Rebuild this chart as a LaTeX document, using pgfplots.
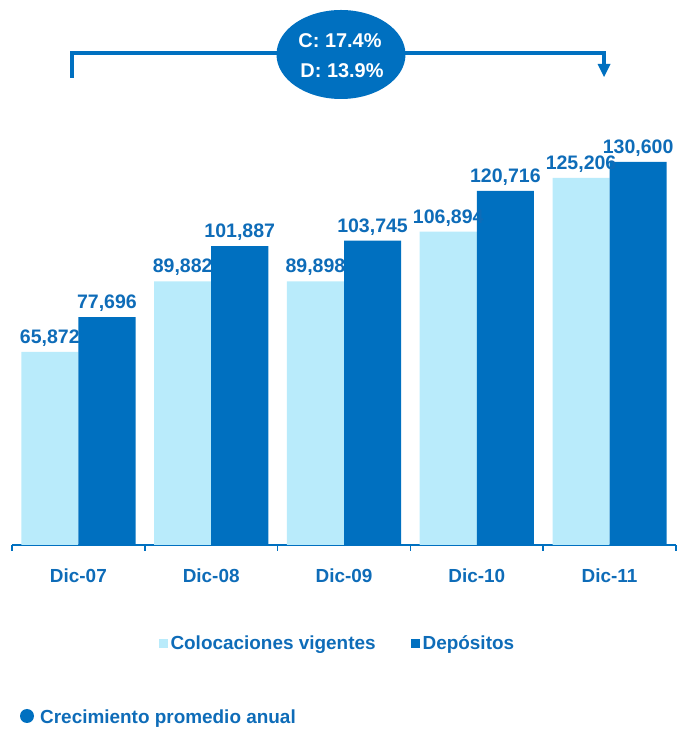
\documentclass[border=0pt]{standalone}
\usepackage{fontspec}
\setmainfont{Liberation Sans}
\usepackage{pgfplots}
\pgfplotsset{compat=1.18}
\usetikzlibrary{arrows.meta}
\definecolor{dblue}{HTML}{0070C0}
\definecolor{lblue}{HTML}{B9EBFB}
\definecolor{tblue}{HTML}{0E6CB8}
\newcommand{\bigbf}{\fontsize{19}{22}\selectfont\bfseries}
\newcommand{\valbf}{\fontsize{19.6}{22}\selectfont\bfseries}
\begin{document}
\begin{tikzpicture}
\path[use as bounding box] (0,0) rectangle (677bp,729bp);
\begin{axis}[
  at={(12bp,184bp)}, anchor=south west,
  scale only axis, width=664bp, height=439.9bp,
  xmin=-0.5, xmax=4.5, ymin=0, ymax=150000,
  axis x line=bottom, axis y line=none, ytick=\empty,
  x axis line style={-, draw=dblue, line width=1.5bp},
  ybar=0pt, bar width=0.43,
  xtick={0,1,2,3,4}, xticklabels={Dic-07,Dic-08,Dic-09,Dic-10,Dic-11},
  major tick length=0pt,
  minor xtick={-0.5,0.5,1.5,2.5,3.5,4.5},
  minor tick length=6bp, tick align=outside,
  minor tick style={draw=dblue, line width=1.5bp},
  xticklabel style={anchor=base, yshift=-38bp, font=\bigbf, text=tblue},
  nodes near coords={\pgfmathprintnumber{\pgfplotspointmeta}},
  every node near coord/.append style={anchor=base, yshift=8.5bp, font=\valbf, text=tblue, inner sep=0pt},
  /pgf/number format/fixed, /pgf/number format/precision=0,
  /pgf/number format/1000 sep={,}, /pgf/number format/assume math mode=true,
  clip=false,
  legend columns=2,
  legend style={draw=none, fill=none, at={(axis description cs:0.4907,-0.2228)}, anchor=center,
    font=\bigbf, text=tblue,
    /tikz/every even column/.append style={column sep=33bp},
    nodes={inner xsep=2.5bp, inner ysep=0pt}},
  legend image code/.code={\fill[#1, draw=none] (0bp,-5bp) rectangle (9bp,4bp);},
]
\addplot[fill=lblue, draw=none] coordinates {(0,65872) (1,89882) (2,89898) (3,106894) (4,125206)};
\addplot[fill=dblue, draw=none] coordinates {(0,77696) (1,101887) (2,103745) (3,120716) (4,130600)};
\legend{Colocaciones vigentes, Depósitos}
\end{axis}
% growth bracket
\draw[dblue, line width=3.5bp] (72bp,651bp) -- (72bp,676bp) -- (604bp,676bp) -- (604bp,662bp);
\fill[dblue] (597.5bp,665bp) -- (610.5bp,665bp) -- (604bp,652bp) -- cycle;
\fill[dblue] (341bp,674.5bp) ellipse [x radius=64.5bp, y radius=44.5bp];
\node[anchor=base, text=white, inner sep=0pt, font=\fontsize{20}{23}\selectfont\bfseries] at (340bp,681bp) {C: 17.4\%};
\node[anchor=base, text=white, inner sep=0pt, font=\fontsize{20}{23}\selectfont\bfseries] at (342bp,651bp) {D: 13.9\%};
% footnote
\fill[dblue] (27bp,13bp) circle (7bp);
\node[anchor=base west, inner sep=0pt, text=tblue, font=\bigbf] at (40bp,6bp) {Crecimiento promedio anual};
\end{tikzpicture}
\end{document}
